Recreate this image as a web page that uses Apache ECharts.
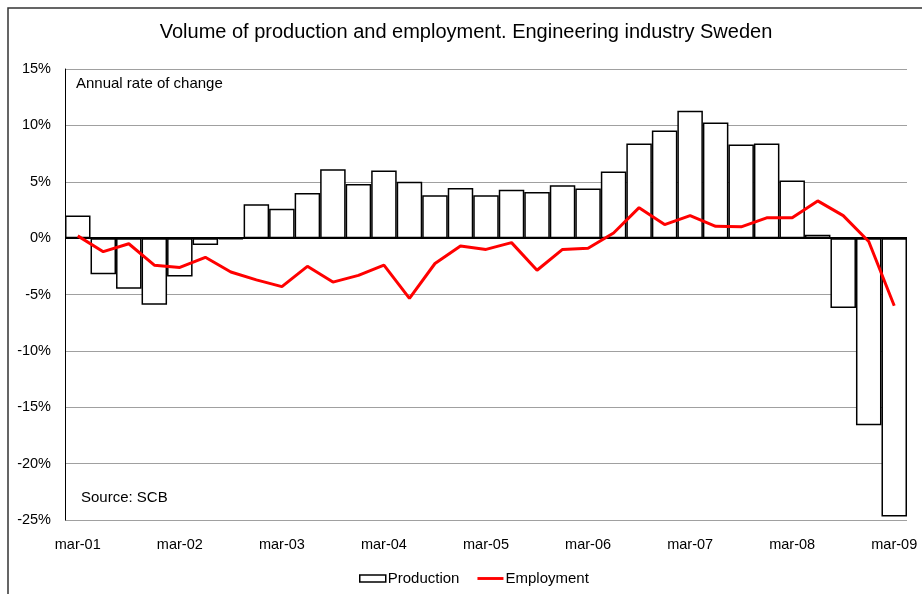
<!DOCTYPE html>
<html>
<head>
<meta charset="utf-8">
<script src="https://cdn.jsdelivr.net/npm/echarts@6/dist/echarts.min.js"></script>
<style>
  html, body { margin: 0; padding: 0; background: #fff; }
  #chart { width: 922px; height: 594px; }
</style>
</head>
<body>
<div id="chart"></div>
<script>
// quarterly, mar-01 .. mar-09
const quarters = [
  "mar-01", "jun-01", "sep-01", "dec-01",
  "mar-02", "jun-02", "sep-02", "dec-02",
  "mar-03", "jun-03", "sep-03", "dec-03",
  "mar-04", "jun-04", "sep-04", "dec-04",
  "mar-05", "jun-05", "sep-05", "dec-05",
  "mar-06", "jun-06", "sep-06", "dec-06",
  "mar-07", "jun-07", "sep-07", "dec-07",
  "mar-08", "jun-08", "sep-08", "dec-08",
  "mar-09",
];
const production = [
  2.0, -3.2, -4.5, -5.9, -3.4, -0.6, -0.1, 3.0,
  2.6, 4.0, 6.1, 4.8, 6.0, 5.0, 3.8, 4.45,
  3.8, 4.3, 4.1, 4.7, 4.4, 5.9, 8.4, 9.55,
  11.3, 10.25, 8.3, 8.4, 5.1, 0.3, -6.2, -16.6,
  -24.7,
];
const employment = [
  0.2, -1.2, -0.5, -2.4, -2.6, -1.7, -3.0, -3.7,
  -4.3, -2.5, -3.9, -3.3, -2.4, -5.35, -2.25, -0.7,
  -1.0, -0.4, -2.85, -1.0, -0.9, 0.45, 2.7, 1.2,
  2.0, 1.05, 1.0, 1.8, 1.8, 3.3, 2.0, -0.3,
  -6.0,
];
const yTicks = { min: -25, max: 15, step: 5 };

const font = "'Liberation Sans', Arial, Helvetica, sans-serif";
const chart = echarts.init(document.getElementById("chart"));

chart.setOption({
  animation: false,
  textStyle: { fontFamily: font },
  grid: { left: 65, right: 15, top: 69, bottom: 74 },
  legend: {
    bottom: 3,
    left: 354,
    itemGap: 18,
    itemWidth: 26,
    itemHeight: 7,
    textStyle: { fontSize: 15, color: "#000", fontFamily: font, padding: [0, 0, 0, -3] },
    data: [
      { name: "Production", icon: "rect", itemStyle: { color: "#fff", borderColor: "#000", borderWidth: 1.5 } },
      { name: "Employment", icon: "path://M0,0H27V3H0Z", itemStyle: { color: "#ff0000" } },
    ],
  },
  graphic: [
    // outer frame (right / bottom edges fall outside the picture)
    {
      type: "rect",
      shape: { x: 8, y: 8, width: 1000, height: 1000 },
      style: { fill: "none", stroke: "#333", lineWidth: 1.5 },
      silent: true,
    },
    {
      type: "text",
      x: 466, y: 32,
      style: {
        text: "Volume of production and employment. Engineering industry Sweden",
        fontSize: 20, fontFamily: font, fill: "#000",
        align: "center", verticalAlign: "middle",
      },
    },
    {
      type: "text",
      x: 76, y: 84,
      style: { text: "Annual rate of change", fontSize: 15, fontFamily: font, fill: "#000", verticalAlign: "middle" },
    },
    {
      type: "text",
      x: 81, y: 498,
      style: { text: "Source: SCB", fontSize: 15, fontFamily: font, fill: "#000", verticalAlign: "middle" },
    },
  ],
  xAxis: {
    type: "category",
    data: quarters,
    boundaryGap: true,
    axisLine: { show: false, onZero: false },
    axisTick: { show: false },
    splitLine: { show: false },
    axisLabel: {
      interval: 3,
      margin: 17,
      fontSize: 14.5,
      color: "#000",
      fontFamily: font,
    },
  },
  yAxis: {
    type: "value",
    min: yTicks.min,
    max: yTicks.max,
    interval: yTicks.step,
    axisLine: { show: true, lineStyle: { color: "#000", width: 1 } },
    axisTick: { show: false },
    axisLabel: {
      formatter: "{value}%",
      fontSize: 14.5,
      color: "#000",
      margin: 14,
      fontFamily: font,
    },
    splitLine: { show: true, lineStyle: { color: "#a0a0a0", width: 1 } },
  },
  series: [
    {
      name: "Production",
      type: "bar",
      data: production,
      barCategoryGap: "0%",
      itemStyle: { color: "#fff", borderColor: "#000", borderWidth: 1.5 },
      markLine: {
        silent: true,
        symbol: "none",
        label: { show: false },
        lineStyle: { color: "#000", type: "solid", width: 2 },
        data: [{ yAxis: 0 }],
      },
    },
    {
      name: "Employment",
      type: "line",
      data: employment,
      symbol: "none",
      lineStyle: { color: "#ff0000", width: 3 },
      itemStyle: { color: "#ff0000" },
      z: 5,
    },
  ],
});
</script>
</body>
</html>
